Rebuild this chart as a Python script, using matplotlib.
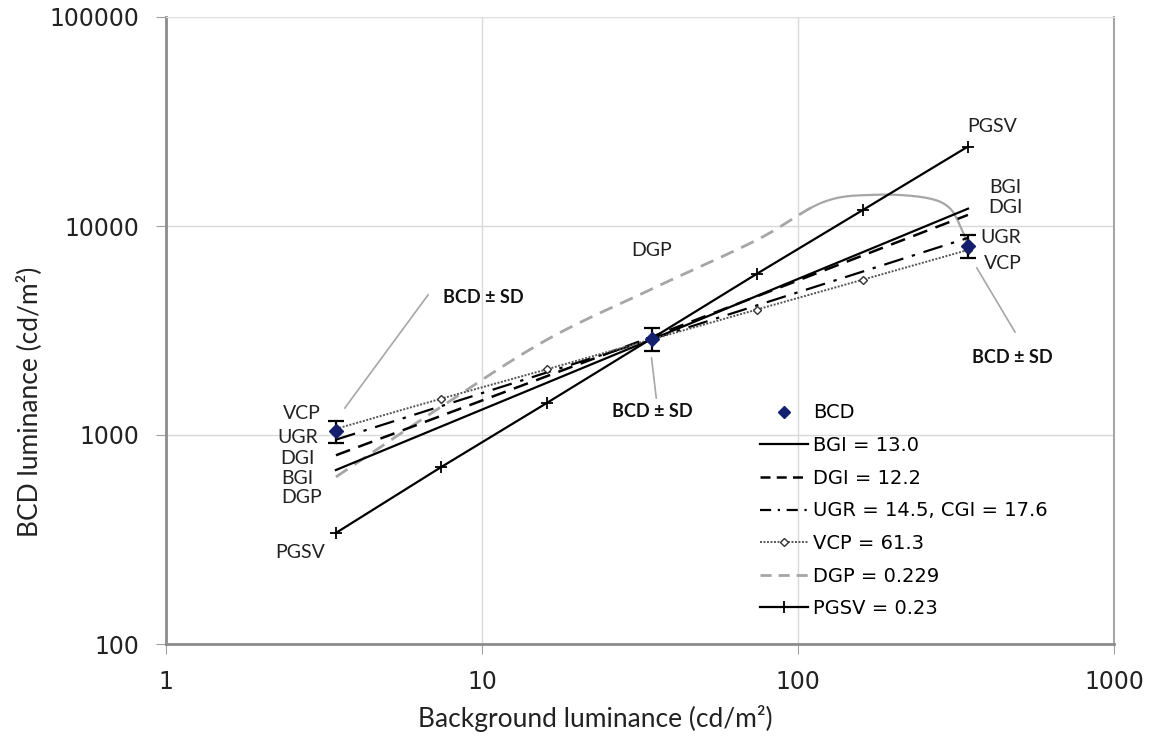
import matplotlib
matplotlib.use("Agg")
import numpy as np
import matplotlib.pyplot as plt
from matplotlib.lines import Line2D

# BCD measurements with standard deviation
bcd_x = [3.45, 34.5, 345]
bcd_y = [1040, 2880, 8020]
bcd_sd = [125, 360, 1000]

# straight fitted lines (start, middle, end)
line_x = [3.45, 34.5, 345]
bgi_y = [680, 2870, 12100]
dgi_y = [800, 2950, 11300]
ugr_y = [950, 2880, 8770]

# lines with markers at seven luminances
mark_x = [3.45, 7.4, 16, 34.5, 74, 160, 345]
vcp_y = [1070, 1490, 2060, 2870, 3980, 5530, 7680]
pgsv_y = [340, 700, 1420, 2900, 5900, 11900, 24000]

# DGP curve read along its path
dgp_x = [3.45, 7.4, 16, 34.5, 74, 120, 175, 250, 300, 330, 345]
dgp_y = [630, 1360, 2850, 5000, 8570, 13000, 14100, 13700, 12300, 9600, 8030]

legend_labels = ["BCD", "BGI = 13.0", "DGI = 12.2", "UGR = 14.5, CGI = 17.6",
                 "VCP = 61.3", "DGP = 0.229", "PGSV = 0.23"]


def smooth(xs, ys, n=25):
    # Catmull-Rom through the points in log-log space, like a smoothed line
    px = np.log10(xs)
    py = np.log10(ys)
    px = np.concatenate([[2 * px[0] - px[1]], px, [2 * px[-1] - px[-2]]])
    py = np.concatenate([[2 * py[0] - py[1]], py, [2 * py[-1] - py[-2]]])
    outx, outy = [], []
    t = np.linspace(0, 1, n, endpoint=False)
    for i in range(1, len(px) - 2):
        for p, out in ((px, outx), (py, outy)):
            p0, p1, p2, p3 = p[i - 1], p[i], p[i + 1], p[i + 2]
            out.extend(0.5 * (2 * p1 + (-p0 + p2) * t
                              + (2 * p0 - 5 * p1 + 4 * p2 - p3) * t ** 2
                              + (-p0 + 3 * p1 - 3 * p2 + p3) * t ** 3))
    outx.append(px[-2])
    outy.append(py[-2])
    return 10 ** np.array(outx), 10 ** np.array(outy)


fig = plt.figure(figsize=(11.52, 7.38), dpi=100)
ax = fig.add_axes([166 / 1152, 1 - 644 / 738, 948 / 1152, 627 / 738])
ax.set_xscale("log")
ax.set_yscale("log")
ax.set_xlim(1, 1000)
ax.set_ylim(100, 100000)

#Gridlines and axis look
ax.grid(True, which="major", color="#d9d9d9", lw=1)
ax.minorticks_off()
ax.set_xticks([1, 10, 100, 1000])
ax.set_xticklabels(["1", "10", "100", "1000"])
ax.set_yticks([100, 1000, 10000, 100000])
ax.set_yticklabels(["100", "1000", "10000", "100000"])
ax.tick_params(direction="out", length=7, color="#a0a0a0", pad=12,
               labelsize=17, labelcolor="#222222")
for s in ["left", "bottom"]:
    ax.spines[s].set_color("#8c8c8c")
    ax.spines[s].set_linewidth(2)
ax.spines["right"].set_color("#a6a6a6")
ax.spines["right"].set_linewidth(1.5)
ax.spines["top"].set_color("#e0e0e0")

#Draw the series
grey = "#a6a6a6"
sx, sy = smooth(dgp_x, dgp_y)
cut = np.searchsorted(sx, 110)
ax.plot(sx[:cut + 1], sy[:cut + 1], color=grey, lw=2, dashes=(5, 3))
ax.plot(sx[cut:], sy[cut:], color=grey, lw=1.6)
ax.plot(line_x, bgi_y, color="black", lw=1.6)
ax.plot(line_x, dgi_y, color="black", lw=1.8, dashes=(6, 3.5))
ax.plot(line_x, ugr_y, color="black", lw=1.6, dashes=(9, 4, 1.5, 4))
ax.plot(mark_x, vcp_y, color="#555555", lw=1.4, ls=(0, (1, 0.8)),
        marker="D", ms=4, mfc="white", mec="#333333")
ax.plot(mark_x, pgsv_y, color="black", lw=1.6, marker="+", ms=9, mew=1.3)
ax.errorbar(bcd_x, bcd_y, yerr=bcd_sd, fmt="D", color="#14206e", ms=7,
            ecolor="black", elinewidth=1.6, capsize=6, capthick=1.6, zorder=5)

#Series labels near the line ends
lab = dict(fontsize=14, family="Lato", color="#222222", ha="center", va="center")
ax.text(2.69, 1274, "VCP", **lab)
ax.text(2.62, 977, "UGR", **lab)
ax.text(2.60, 776, "DGI", **lab)
ax.text(2.60, 622, "BGI", **lab)
ax.text(2.69, 500, "DGP", **lab)
ax.text(2.66, 275, "PGSV", **lab)
ax.text(411, 29800, "PGSV", **lab)
ax.text(452, 15200, "BGI", **lab)
ax.text(452, 12200, "DGI", **lab)
ax.text(439, 8850, "UGR", **lab)
ax.text(445, 6650, "VCP", **lab)
ax.text(34.5, 7670, "DGP", **lab)

#BCD +- SD notes with leader lines
note = dict(fontsize=13, family="Lato", weight="bold", color="#111111",
            ha="center", va="center")
ax.text(10.1, 4570, "BCD ± SD", **note)
ax.text(34.5, 1290, "BCD ± SD", **note)
ax.text(476, 2360, "BCD ± SD", **note)
ax.plot([6.75, 3.68], [4680, 1346], color=grey, lw=1.2)
ax.plot([34.4, 35.6], [2335, 1503], color=grey, lw=1.2)
ax.plot([368, 486], [6300, 3110], color=grey, lw=1.2)

#Legend
handles = [
    Line2D([], [], ls="none", marker="D", ms=6, color="#14206e"),
    Line2D([], [], color="black", lw=1.6),
    Line2D([], [], color="black", lw=1.8, dashes=(4, 2.5)),
    Line2D([], [], color="black", lw=1.6, dashes=(5, 3, 1, 3)),
    Line2D([], [], color="#555555", lw=1.4, ls=(0, (1, 0.8)), marker="D",
           ms=4, mfc="white", mec="#333333"),
    Line2D([], [], color=grey, lw=2, dashes=(4, 2.5)),
    Line2D([], [], color="black", lw=1.6, marker="+", ms=9, mew=1.3),
]
ax.legend(handles, legend_labels, loc="upper left", bbox_to_anchor=(0.618, 0.396),
          frameon=False, fontsize=14, handlelength=2.5, handletextpad=0.25,
          labelspacing=0.7, borderaxespad=0)

fig.text(595 / 1152, 1 - 718 / 738, "Background luminance (cd/m²)",
         fontsize=19, family="Lato", color="#222222", ha="center", va="center")
fig.text(29 / 1152, 1 - 402 / 738, "BCD luminance (cd/m²)", rotation=90,
         fontsize=19, family="Lato", color="#222222", ha="center", va="center")

fig.savefig("out.png", dpi=100)
